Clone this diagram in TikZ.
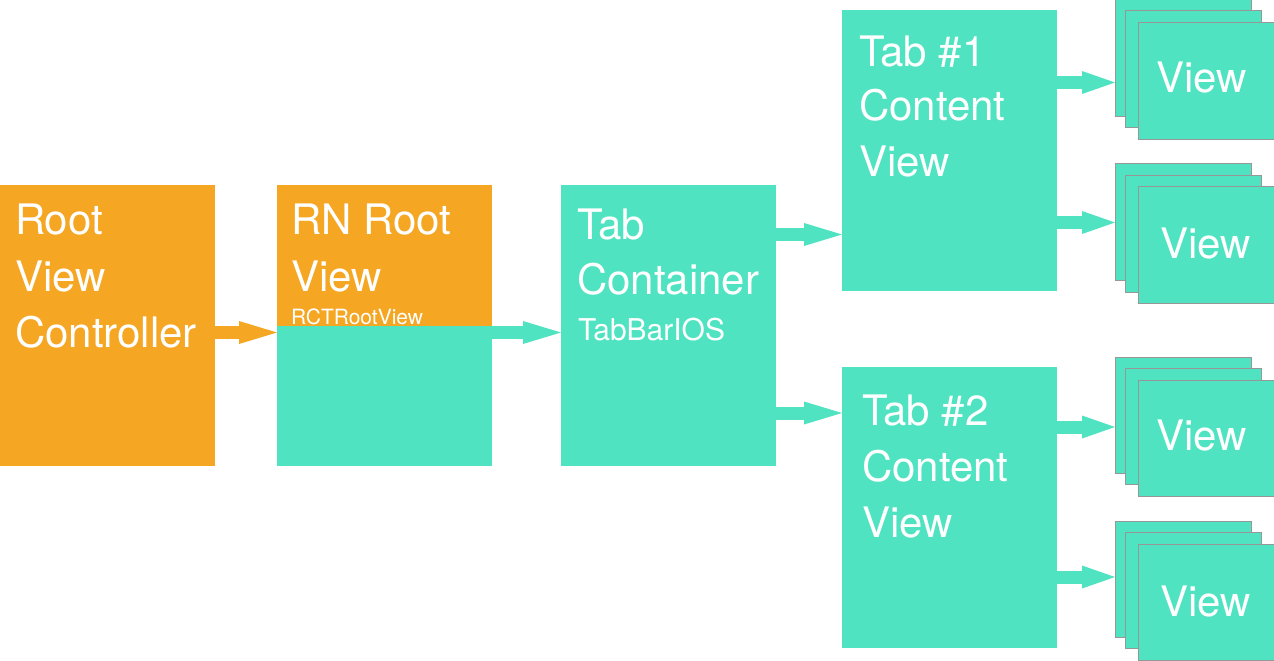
\documentclass[tikz,border=0pt]{standalone}
\usepackage{fontspec}
\setmainfont{TeX Gyre Heros}
\usetikzlibrary{arrows.meta}
\definecolor{orng}{HTML}{F5A623}
\definecolor{tealc}{HTML}{50E3C2}
\definecolor{edgegray}{HTML}{979797}
\begin{document}
\begin{tikzpicture}[x=1bp,y=-1bp,
  box/.style={anchor=north west, inner sep=0pt, outer sep=0pt, minimum width=215bp, minimum height=281bp, draw=none},
  stackbox/.style={anchor=north west, inner sep=0pt, outer sep=0pt, minimum width=136bp, minimum height=116bp, fill=tealc, draw=edgegray, line width=1bp},
  lbl/.style={anchor=base west, inner sep=0pt, outer sep=0pt, text=white, font=\fontsize{42bp}{50bp}\selectfont},
  small/.style={anchor=base west, inner sep=0pt, outer sep=0pt, text=white, font=\fontsize{30bp}{36bp}\selectfont},
  tiny/.style={anchor=base west, inner sep=0pt, outer sep=0pt, text=white, font=\fontsize{21bp}{25bp}\selectfont},
  arr/.style={line width=13bp, -{Triangle[length=38bp, width=23bp, line width=0pt 0 0]}},
  arrs/.style={line width=13bp, -{Triangle[length=33bp, width=23bp, line width=0pt 0 0]}}
]
\useasboundingbox (0,0) rectangle (1274,661);

% main boxes
\node[box, fill=orng] (rvc) at (0,185) {};
\node[box, fill=tealc] (rnr) at (277,185) {};
\fill[orng] (rnr.north west) rectangle (rnr.east |- 0,326);
\node[box, fill=tealc] (tc) at (561,185) {};
\node[box, fill=tealc] (t1) at (842,10) {};
\node[box, fill=tealc] (t2) at (842,367) {};

% stacks
\node[stackbox] (s1a) at (1115,0) {};
\node[stackbox] (s1b) at (1125,11) {};
\node[stackbox] (s1c) at (1138,23) {};
\node[stackbox] (s2a) at (1115,164) {};
\node[stackbox] (s2b) at (1125,176) {};
\node[stackbox] (s2c) at (1138,187) {};
\node[stackbox] (s3a) at (1115,357) {};
\node[stackbox] (s3b) at (1125,368) {};
\node[stackbox] (s3c) at (1138,380) {};
\node[stackbox] (s4a) at (1115,521) {};
\node[stackbox] (s4b) at (1125,532) {};
\node[stackbox] (s4c) at (1138,544) {};

% labels
\node[lbl] (rvc1) at (15,235) {Root};
\node[lbl] (rvc2) at (15,291) {View};
\node[lbl] (rvc3) at (15,347) {Controller};
\node[lbl] (rnr1) at (291,235) {RN Root};
\node[lbl] (rnr2) at (291,291) {View};
\node[tiny] (rnr3) at (291,324) {RCTRootView};
\node[lbl] (tc1) at (577,240) {Tab};
\node[lbl] (tc2) at (577,294) {Container};
\node[small] (tc3) at (578,340) {TabBarIOS};
\node[lbl] (t11) at (859,67) {Tab \#1};
\node[lbl] (t12) at (859,121) {Content};
\node[lbl] (t13) at (859,177) {View};
\node[lbl] (t21) at (862,425) {Tab \#2};
\node[lbl] (t22) at (862,481) {Content};
\node[lbl] (t23) at (862,537) {View};
\node[lbl] (v1) at (1156,93) {View};
\node[lbl] (v2) at (1160,258) {View};
\node[lbl] (v3) at (1156,450) {View};
\node[lbl] (v4) at (1160,616) {View};

% connectors
\draw[arr, orng] (rvc.east |- 0,332.5) -- (rnr.west |- 0,332.5);
\draw[arr, tealc] (rnr.east |- 0,332.5) -- (tc.west |- 0,332.5);
\draw[arr, tealc] (tc.east |- 0,234.5) -- (t1.west |- 0,234.5);
\draw[arr, tealc] (tc.east |- 0,413) -- (t2.west |- 0,413);
\draw[arrs, tealc] (t1.east |- 0,82.5) -- (s1a.west |- 0,82.5);
\draw[arrs, tealc] (t1.east |- 0,222.5) -- (s2a.west |- 0,222.5);
\draw[arrs, tealc] (t2.east |- 0,427) -- (s3a.west |- 0,427);
\draw[arrs, tealc] (t2.east |- 0,577) -- (s4a.west |- 0,577);
\end{tikzpicture}
\end{document}
